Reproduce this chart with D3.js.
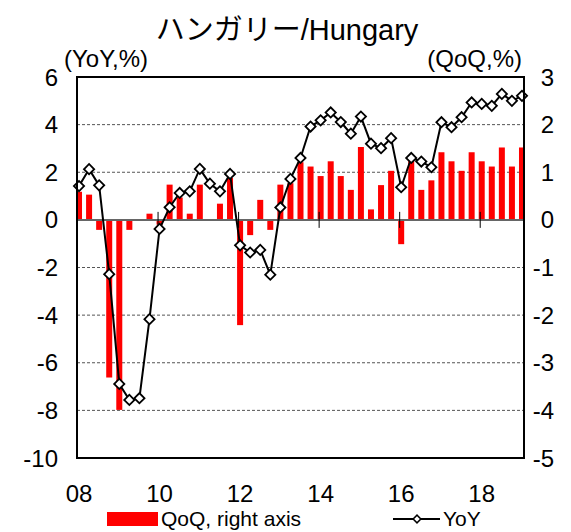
<!DOCTYPE html>
<html>
<head>
<meta charset="utf-8">
<script src="https://cdn.jsdelivr.net/npm/d3@7"></script>
<style>
  body { margin: 0; background: #fff; }
  text { font-family: "Liberation Sans", Arial, "Noto Sans CJK JP", sans-serif; fill: #000; }
</style>
</head>
<body>
<div id="chart"></div>
<script>
// quarters 2008Q1 .. 2019Q1
const quarters = d3.range(45).map(i => `${2008 + Math.floor(i / 4)}Q${i % 4 + 1}`);

const qoq = [0.59, 0.53, -0.21, -3.31, -3.99, -0.21, 0.0, 0.13, -0.1, 0.74,
             0.47, 0.13, 0.74, 0.0, 0.34, 0.88, -2.21, -0.32, 0.42, -0.21,
             0.74, 0.77, 1.21, 1.12, 0.92, 1.23, 0.92, 0.63, 1.53, 0.22,
             0.73, 1.03, -0.51, 1.25, 0.63, 0.83, 1.42, 1.23, 1.03, 1.42,
             1.23, 1.12, 1.52, 1.12, 1.52];

const yoy = [1.42, 2.13, 1.45, -2.28, -6.89, -7.56, -7.49, -4.17, -0.38, 0.53,
             1.13, 1.2, 2.14, 1.52, 1.2, 1.93, -1.07, -1.37, -1.26, -2.3,
             0.52, 1.72, 2.6, 3.92, 4.18, 4.51, 4.11, 3.62, 4.34, 3.2,
             3.01, 3.43, 1.37, 2.6, 2.45, 2.21, 4.1, 3.89, 4.31, 4.93,
             4.87, 4.79, 5.29, 5.0, 5.21];

const xTickLabels = ["08", "10", "12", "14", "16", "18"];
const leftTicks = [6, 4, 2, 0, -2, -4, -6, -8, -10];
const rightTicks = [3, 2, 1, 0, -1, -2, -3, -4, -5];

const width = 571, height = 532;
const margin = { top: 77, right: 47, bottom: 74, left: 77 };

const svg = d3.select("#chart").append("svg")
    .attr("width", width)
    .attr("height", height);

const x = d3.scaleLinear()
    .domain([-0.2, 44.2])
    .range([margin.left, width - margin.right]);

const yL = d3.scaleLinear()
    .domain([-10, 6])
    .range([height - margin.bottom, margin.top]);

const yR = d3.scaleLinear()
    .domain([-5, 3])
    .range([height - margin.bottom, margin.top]);

// grid lines
svg.append("g")
    .selectAll("line")
    .data(leftTicks.filter(d => d !== 0 && d !== 6 && d !== -10))
    .enter().append("line")
    .attr("x1", margin.left).attr("x2", width - margin.right)
    .attr("y1", d => yL(d)).attr("y2", d => yL(d))
    .attr("stroke", "#555")
    .attr("stroke-width", 1)
    .attr("stroke-dasharray", "3,2");

// bars (right axis)
const barW = 6;
svg.append("g")
    .selectAll("rect")
    .data(qoq)
    .enter().append("rect")
    .attr("x", (d, i) => Math.max(margin.left, x(i) - barW / 2))
    .attr("width", (d, i) => Math.min(x(i) + barW / 2, width - margin.right) - Math.max(margin.left, x(i) - barW / 2))
    .attr("y", d => yR(Math.max(0, d)))
    .attr("height", d => Math.abs(yR(d) - yR(0)))
    .attr("fill", "#ff0000");

// zero line
svg.append("line")
    .attr("x1", margin.left).attr("x2", width - margin.right)
    .attr("y1", yL(0)).attr("y2", yL(0))
    .attr("stroke", "#666")
    .attr("stroke-width", 2);

// x ticks crossing the zero line
svg.append("g")
    .selectAll("line")
    .data(xTickLabels)
    .enter().append("line")
    .attr("x1", (d, i) => x(i * 8) - 1.5).attr("x2", (d, i) => x(i * 8) - 1.5)
    .attr("y1", yL(0) - 8).attr("y2", yL(0) + 8)
    .attr("stroke", "#000")
    .attr("stroke-width", 1);

// YoY line
const line = d3.line()
    .x((d, i) => x(i))
    .y(d => yL(d));

svg.append("path")
    .datum(yoy)
    .attr("fill", "none")
    .attr("stroke", "#000")
    .attr("stroke-width", 2)
    .attr("d", line);

const diamond = d3.symbol().type(d3.symbolSquare).size(52);

svg.append("g")
    .selectAll("path")
    .data(yoy)
    .enter().append("path")
    .attr("d", diamond)
    .attr("transform", (d, i) => `translate(${x(i)},${yL(d)}) rotate(45)`)
    .attr("fill", "#fff")
    .attr("stroke", "#000")
    .attr("stroke-width", 1.8);

// frame
svg.append("rect")
    .attr("x", margin.left).attr("y", margin.top)
    .attr("width", width - margin.left - margin.right)
    .attr("height", height - margin.top - margin.bottom)
    .attr("fill", "none")
    .attr("stroke", "#000")
    .attr("stroke-width", 2);

// axis labels
svg.append("g")
    .selectAll("text")
    .data(leftTicks)
    .enter().append("text")
    .attr("x", 58)
    .attr("y", d => yL(d) + 8.5)
    .attr("text-anchor", "end")
    .attr("font-size", 24)
    .text(d => d);

svg.append("g")
    .selectAll("text")
    .data(rightTicks)
    .enter().append("text")
    .attr("x", 554)
    .attr("y", d => yR(d) + 8.5)
    .attr("text-anchor", "end")
    .attr("font-size", 24)
    .text(d => d);

svg.append("g")
    .selectAll("text")
    .data(xTickLabels)
    .enter().append("text")
    .attr("x", (d, i) => x(i * 8))
    .attr("y", 502)
    .attr("text-anchor", "middle")
    .attr("font-size", 24)
    .text(d => d);

// titles
svg.append("text")
    .attr("x", 287).attr("y", 40)
    .attr("text-anchor", "middle")
    .attr("font-size", 29)
    .text("ハンガリー/Hungary");

svg.append("text")
    .attr("x", 64).attr("y", 67)
    .attr("font-size", 24)
    .text("(YoY,%)");

svg.append("text")
    .attr("x", 522).attr("y", 67)
    .attr("text-anchor", "end")
    .attr("font-size", 24)
    .text("(QoQ,%)");

// legend
const lg = svg.append("g");
lg.append("rect")
    .attr("x", 107).attr("y", 512)
    .attr("width", 51).attr("height", 14)
    .attr("fill", "#ff0000");
lg.append("text")
    .attr("x", 161).attr("y", 526)
    .attr("font-size", 21)
    .text("QoQ, right axis");
lg.append("line")
    .attr("x1", 393).attr("x2", 440)
    .attr("y1", 519).attr("y2", 519)
    .attr("stroke", "#000").attr("stroke-width", 2);
lg.append("path")
    .attr("d", d3.symbol().type(d3.symbolSquare).size(30))
    .attr("transform", "translate(417,519) rotate(45)")
    .attr("fill", "#fff").attr("stroke", "#000").attr("stroke-width", 1.5);
lg.append("text")
    .attr("x", 443).attr("y", 526)
    .attr("font-size", 21)
    .text("YoY");
</script>
</body>
</html>
